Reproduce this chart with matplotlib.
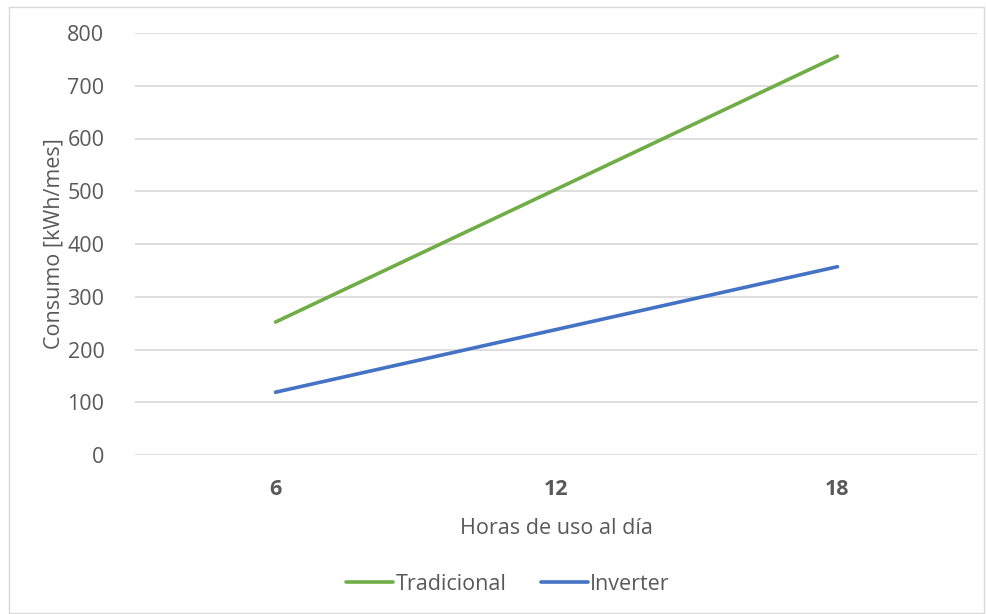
import matplotlib.pyplot as plt
from matplotlib.patches import Rectangle

plt.rcParams['font.family'] = ['Open Sans', 'DejaVu Sans']

horas = ['6', '12', '18']
tradicional = [252, 504, 756]
inverter = [119, 238, 357]

TEXT = '#595959'
W, H = 986, 614

fig = plt.figure(figsize=(W / 100, H / 100), dpi=100)
ax = fig.add_axes([135 / W, 1 - 455 / H, (978 - 135) / W, (455 - 33) / H])

x = range(len(horas))
ax.plot(x, tradicional, color='#70AD47', lw=2.6, solid_capstyle='round', label='Tradicional')
ax.plot(x, inverter, color='#4472C4', lw=2.6, solid_capstyle='round', label='Inverter')

ax.set_xlim(-0.5, len(horas) - 0.5)
ax.set_ylim(0, 800)
ax.set_yticks(range(0, 801, 100))
ax.set_xticks(list(x))
ax.set_xticklabels(horas, fontweight='bold')
ax.yaxis.grid(True, color='#d9d9d9', lw=1.2)
ax.set_axisbelow(True)
for s in ax.spines.values():
    s.set_visible(False)
ax.tick_params(axis='both', length=0, labelsize=15.5, labelcolor=TEXT)
ax.tick_params(axis='y', pad=22)
ax.tick_params(axis='x', pad=17)

ax.set_ylabel('Consumo [kWh/mes]', fontsize=15.5, color=TEXT, labelpad=2)
ax.set_xlabel('Horas de uso al día', fontsize=15.5, color=TEXT, labelpad=13)

fig.legend(loc='center', bbox_to_anchor=(508 / W, 1 - 584 / H), ncol=2, frameon=False,
           fontsize=15.5, labelcolor=TEXT, handlelength=2.2, handletextpad=0.1,
           columnspacing=1.6)

# chart-area border
fig.patches.append(Rectangle((9 / W, 1 / H), (W - 11) / W, (H - 8) / H, transform=fig.transFigure,
                             fill=False, edgecolor='#d9d9d9', lw=1))

fig.savefig('out.png', dpi=100)
